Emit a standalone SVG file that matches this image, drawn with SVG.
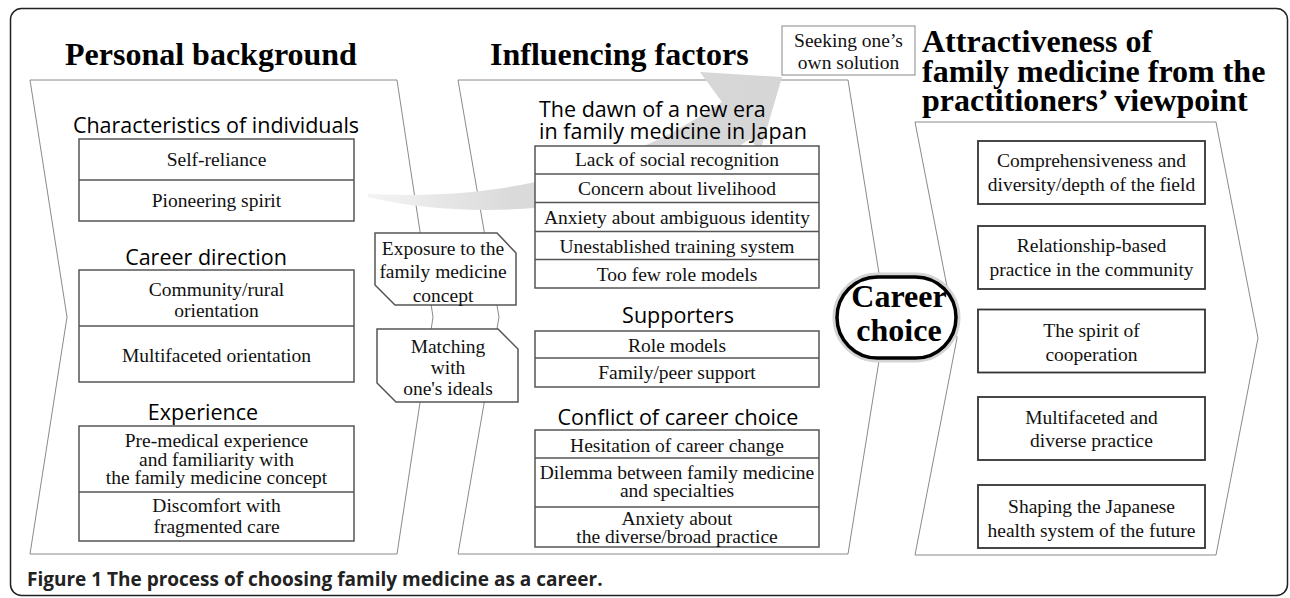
<svg xmlns="http://www.w3.org/2000/svg" width="1290" height="598" viewBox="0 0 1290 598">
<defs>
<style>
.panel{fill:#fff;stroke:#8a8a8a;stroke-width:1}
.box{fill:#fff;stroke:#555;stroke-width:1.5}
.rbox{fill:#fff;stroke:#333;stroke-width:1.8}
.title{font-family:"Liberation Serif",serif;font-weight:bold;font-size:32px;fill:#000}
.sub{font-family:"Open Sans",sans-serif;font-size:21.5px;fill:#000}
.t{font-family:"Liberation Serif",serif;font-size:19.5px;fill:#111;text-anchor:middle}
.cap{font-family:"Open Sans",sans-serif;font-weight:bold;font-size:19px;fill:#222}
</style>
<linearGradient id="bandGrad" gradientUnits="userSpaceOnUse" x1="368" y1="0" x2="780" y2="0">
<stop offset="0" stop-color="#f4f4f4"/>
<stop offset="0.35" stop-color="#dadada"/>
<stop offset="1" stop-color="#d6d6d6"/>
</linearGradient>
</defs>
<rect x="0" y="0" width="1290" height="598" fill="#fff"/>
<rect id="frame" x="10.5" y="8.5" width="1277" height="587" rx="11" fill="none" stroke="#222" stroke-width="1.5"/>

<g id="panel-personal">
<polygon class="panel" points="30,80 397,80 433,317 397,554 30,554 67,317"/>
<text class="title" x="65" y="65">Personal background</text>
</g>
<g id="panel-influencing">
<polygon class="panel" points="458,80 848,80 886,317 848,554 458,554 499,317"/>
<text class="title" x="490" y="65">Influencing factors</text>
</g>
<g id="panel-attractiveness">
<polygon class="panel" points="915,122 1216,122 1258,338 1216,555 915,555 957,338"/>
<text class="title" x="922" y="52" font-size="32.8">Attractiveness of</text>
<text class="title" x="922" y="82" font-size="32.8">family medicine from the</text>
<text class="title" x="922" y="111" font-size="32.8">practitioners’ viewpoint</text>
</g>

<g id="connectors">
<path d="M368,194 C460,198 590,192 722,102 L700,72 L782,77 L760,152 L750,139 C640,215 470,222 368,197 Z" fill="url(#bandGrad)"/>
</g>

<g id="characteristics">
<text class="sub" x="216" y="133" text-anchor="middle">Characteristics of individuals</text>
<rect class="box" x="79" y="139" width="275" height="82"/>
<line class="box" x1="79" y1="180" x2="354" y2="180"/>
<text class="t" x="216.5" y="166">Self-reliance</text>
<text class="t" x="216.5" y="207">Pioneering spirit</text>
</g>
<g id="career-direction">
<text class="sub" x="206" y="265" text-anchor="middle">Career direction</text>
<rect class="box" x="79" y="270" width="275" height="112"/>
<line class="box" x1="79" y1="326" x2="354" y2="326"/>
<text class="t" x="216.5" y="296">Community/rural</text>
<text class="t" x="216.5" y="317">orientation</text>
<text class="t" x="216.5" y="362">Multifaceted orientation</text>
</g>
<g id="experience">
<text class="sub" x="203" y="420" text-anchor="middle">Experience</text>
<rect class="box" x="79" y="426" width="275" height="115"/>
<line class="box" x1="79" y1="492" x2="354" y2="492"/>
<text class="t" x="216.5" y="447">Pre-medical experience</text>
<text class="t" x="216.5" y="466">and familiarity with</text>
<text class="t" x="216.5" y="484">the family medicine concept</text>
<text class="t" x="216.5" y="512">Discomfort with</text>
<text class="t" x="216.5" y="533">fragmented care</text>
</g>

<g id="exposure">
<polygon class="box" points="375,233 497,233 516,253 516,305 395,305 375,285"/>
<text class="t" x="443" y="255">Exposure to the</text>
<text class="t" x="443" y="278">family medicine</text>
<text class="t" x="443" y="302">concept</text>
</g>
<g id="matching">
<polygon class="box" points="377,329 498,329 518,349 518,402 396,402 377,383"/>
<text class="t" x="448" y="353">Matching</text>
<text class="t" x="448" y="374">with</text>
<text class="t" x="448" y="395">one's ideals</text>
</g>

<g id="dawn">
<text class="sub" x="539" y="117" font-size="22">The dawn of a new era</text>
<text class="sub" x="539" y="139" font-size="22">in family medicine in Japan</text>
<rect class="box" x="535" y="146" width="284" height="142"/>
<line class="box" x1="535" y1="174" x2="819" y2="174"/>
<line class="box" x1="535" y1="202.5" x2="819" y2="202.5"/>
<line class="box" x1="535" y1="231.5" x2="819" y2="231.5"/>
<line class="box" x1="535" y1="259.5" x2="819" y2="259.5"/>
<text class="t" x="677" y="166">Lack of social recognition</text>
<text class="t" x="677" y="195">Concern about livelihood</text>
<text class="t" x="677" y="224">Anxiety about ambiguous identity</text>
<text class="t" x="677" y="252.5">Unestablished training system</text>
<text class="t" x="677" y="281">Too few role models</text>
</g>
<g id="supporters">
<text class="sub" x="678" y="323" text-anchor="middle">Supporters</text>
<rect class="box" x="535" y="331" width="284" height="56"/>
<line class="box" x1="535" y1="358" x2="819" y2="358"/>
<text class="t" x="677" y="352">Role models</text>
<text class="t" x="677" y="379">Family/peer support</text>
</g>
<g id="conflict">
<text class="sub" x="678" y="425" text-anchor="middle">Conflict of career choice</text>
<rect class="box" x="535" y="430" width="284" height="117"/>
<line class="box" x1="535" y1="458" x2="819" y2="458"/>
<line class="box" x1="535" y1="507" x2="819" y2="507"/>
<text class="t" x="677" y="452">Hesitation of career change</text>
<text class="t" x="677" y="479">Dilemma between family medicine</text>
<text class="t" x="677" y="497">and specialties</text>
<text class="t" x="677" y="525">Anxiety about</text>
<text class="t" x="677" y="543">the diverse/broad practice</text>
</g>

<g id="seeking">
<rect x="782" y="26" width="133" height="49" fill="#fff" stroke="#888" stroke-width="1"/>
<text class="t" x="848.5" y="47" font-size="18.5">Seeking one’s</text>
<text class="t" x="848.5" y="69" font-size="18.5">own solution</text>
</g>

<g id="career-choice">
<rect x="836" y="276" width="121" height="83" rx="41.5" fill="none" stroke="#d4d4d4" stroke-width="7"/>
<rect x="837" y="277" width="119" height="81" rx="40.5" fill="#fff" stroke="#000" stroke-width="3.5"/>
<text class="title" x="899" y="307" font-size="27" text-anchor="middle">Career</text>
<text class="title" x="899" y="341" font-size="27" text-anchor="middle">choice</text>
</g>

<g id="attr-1">
<rect class="rbox" x="978" y="141" width="227" height="63"/>
<text class="t" x="1091.5" y="167">Comprehensiveness and</text>
<text class="t" x="1091.5" y="191">diversity/depth of the field</text>
</g>
<g id="attr-2">
<rect class="rbox" x="978" y="226" width="227" height="63"/>
<text class="t" x="1091.5" y="252">Relationship-based</text>
<text class="t" x="1091.5" y="276">practice in the community</text>
</g>
<g id="attr-3">
<rect class="rbox" x="978" y="309.5" width="227" height="63"/>
<text class="t" x="1091.5" y="337">The spirit of</text>
<text class="t" x="1091.5" y="361">cooperation</text>
</g>
<g id="attr-4">
<rect class="rbox" x="978" y="397" width="227" height="63"/>
<text class="t" x="1091.5" y="423.5">Multifaceted and</text>
<text class="t" x="1091.5" y="447">diverse practice</text>
</g>
<g id="attr-5">
<rect class="rbox" x="978" y="485" width="227" height="63"/>
<text class="t" x="1091.5" y="513">Shaping the Japanese</text>
<text class="t" x="1091.5" y="537">health system of the future</text>
</g>

<text class="cap" x="27" y="586">Figure 1 The process of choosing family medicine as a career.</text>
</svg>
